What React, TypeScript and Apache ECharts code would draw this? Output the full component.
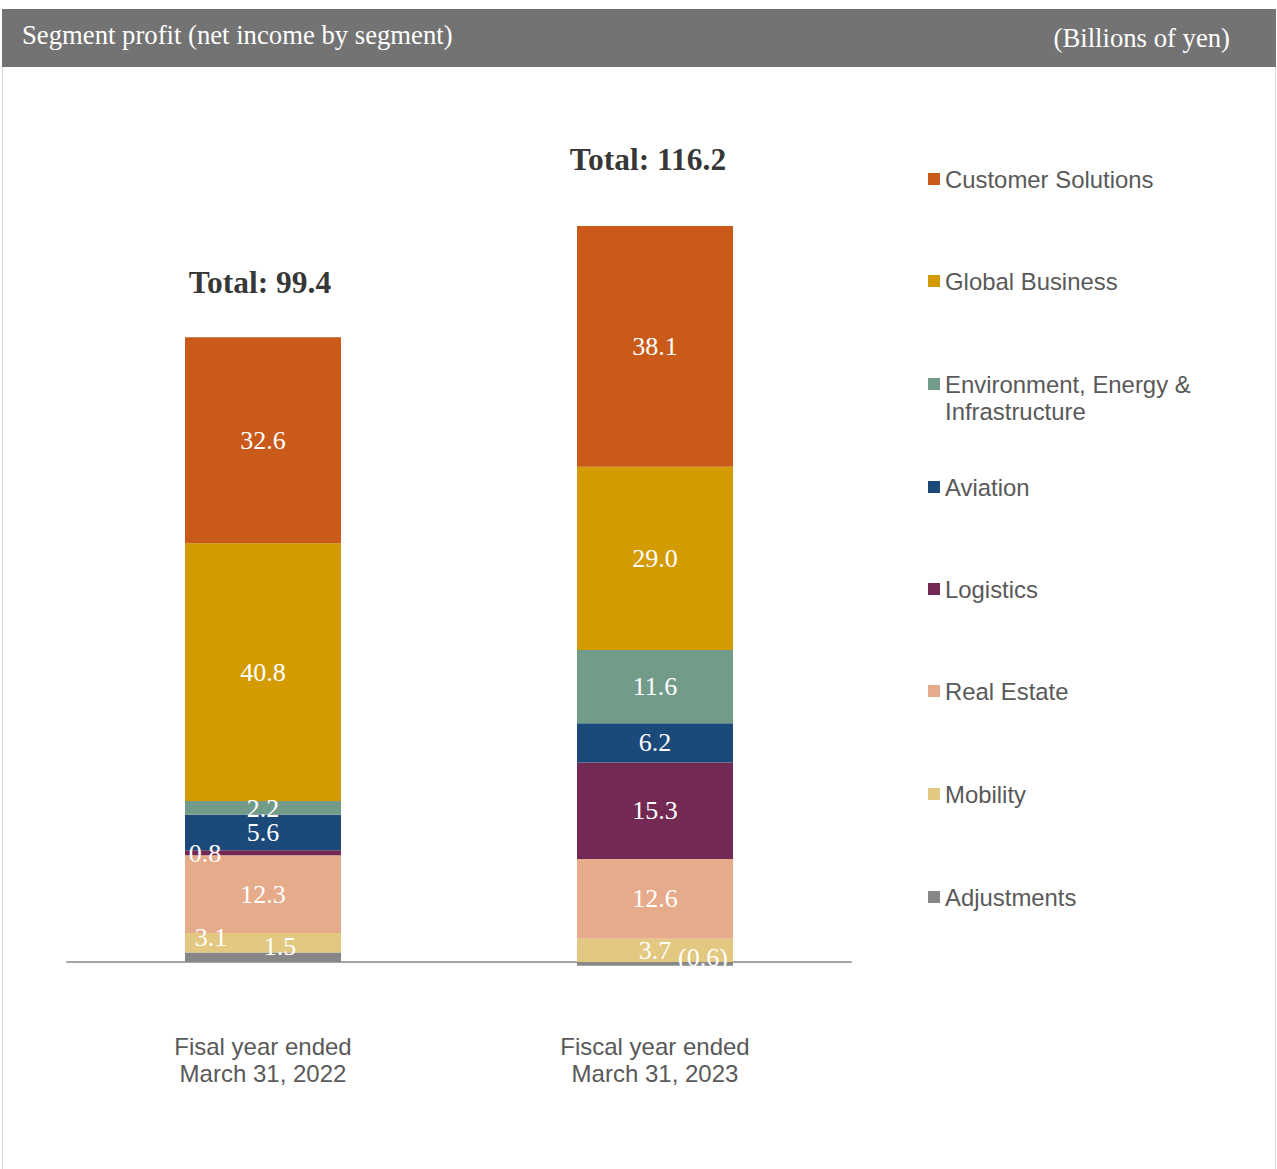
import React, { useEffect, useRef } from "react";
import * as echarts from "echarts";

const categories = ["Fisal year ended\nMarch 31, 2022", "Fiscal year ended\nMarch 31, 2023"];
const totals = [99.4, 116.2];

const adjustments = [1.5, -0.6];
const mobility = [3.1, 3.7];
const realEstate = [12.3, 12.6];
const logistics = [0.8, 15.3];
const aviation = [5.6, 6.2];
const environment = [2.2, 11.6];
const globalBusiness = [40.8, 29.0];
const customerSolutions = [32.6, 38.1];

const seriesNames = [
  "Adjustments",
  "Mobility",
  "Real Estate",
  "Logistics",
  "Aviation",
  "Environment, Energy &\nInfrastructure",
  "Global Business",
  "Customer Solutions",
];
const seriesValues = [adjustments, mobility, realEstate, logistics, aviation, environment, globalBusiness, customerSolutions];
const seriesColors = ["#878787", "#E2C880", "#E6AB8B", "#722A55", "#1B4A7A", "#739B89", "#D39B00", "#C95A19"];

// label offsets for small segments [seriesIndex][categoryIndex]
const labelOffsets: Record<string, number[]> = {
  "0-0": [17, -11],
  "0-1": [48, -6],
  "1-0": [-52, -5],
  "3-0": [-58, 1],
  "5-0": [0, 1],
};

// legend order top to bottom and centers
const legendOrder = [7, 6, 5, 4, 3, 2, 1, 0];
const legendCenters = [179, 281, 384, 487, 589, 691, 794, 897];

const fmt = (v: number) => (v < 0 ? `(${Math.abs(v).toFixed(1)})` : v.toFixed(1));

export default function App() {
  const ref = useRef<HTMLDivElement>(null);
  useEffect(() => {
    document.body.style.margin = "0";
    const chart = echarts.init(ref.current!, null, { renderer: "svg" });
    const barSeries = seriesNames.map((name, si) => ({
      name,
      type: "bar",
      stack: "total",
      barWidth: 156,
      itemStyle: { color: seriesColors[si] },
      label: {
        show: true,
        position: "inside",
        color: "#ffffff",
        fontFamily: "Liberation Serif",
        fontSize: 26,
        formatter: (p: any) => fmt(p.value),
      },
      data: seriesValues[si].map((v, ci) => {
        const off = labelOffsets[`${si}-${ci}`];
        return off ? { value: v, label: { offset: off } } : { value: v };
      }),
    }));
    const totalOffsets = [[-3, -35], [-7, -52]];
    const legends = legendOrder.map((si, i) => {
      const isEnv = si === 5;
      return {
        data: [seriesNames[si]],
        orient: "vertical",
        left: 928,
        top: isEnv ? legendCenters[i] - 40.5 : legendCenters[i] - 13,
        icon: "rect",
        itemWidth: 12,
        itemHeight: 12,
        padding: 0,
        selectedMode: false,
        formatter: isEnv ? (name: string) => "\n" + name : undefined,
        textStyle: { fontFamily: "Liberation Sans", fontSize: 23.9, color: "#595959", lineHeight: isEnv ? 27 : 26 },
      };
    });
    chart.setOption({
      animation: false,
      graphic: [
        { type: "rect", shape: { x: 2.5, y: 9.5, width: 1273, height: 1170 }, style: { fill: "#ffffff", stroke: "#d9d9d9", lineWidth: 1 }, z: -10 },
        { type: "rect", shape: { x: 2, y: 9, width: 1274, height: 58 }, style: { fill: "#737373" } },
        {
          type: "text",
          x: 22,
          y: 35,
          style: { text: "Segment profit (net income by segment)", fill: "#ffffff", font: "26.7px 'Liberation Serif'", verticalAlign: "middle", align: "left" },
        },
        {
          type: "text",
          x: 1230,
          y: 38,
          style: { text: "(Billions of yen)", fill: "#ffffff", font: "26.7px 'Liberation Serif'", verticalAlign: "middle", align: "right" },
        },
      ],
      legend: legends,
      grid: { left: 67, width: 784, top: 140.7, bottom: 143.8, containLabel: false },
      xAxis: {
        type: "category",
        data: categories,
        axisLine: { show: true, onZero: true, lineStyle: { color: "#a6a6a6", width: 2 } },
        axisTick: { show: false },
        axisLabel: { margin: 7.3, fontSize: 24, lineHeight: 27, color: "#595959", fontFamily: "Liberation Sans" },
      },
      yAxis: { type: "value", min: -10, max: 130, show: false, splitLine: { show: false } },
      series: [
        ...barSeries,
        {
          name: "Total",
          type: "scatter",
          symbolSize: 1,
          itemStyle: { color: "transparent" },
          label: {
            show: true,
            position: "top",
            distance: 0,
            color: "#000000",
            fontFamily: "Liberation Serif",
            fontWeight: "bold",
            fontSize: 31.5,
            formatter: (p: any) => `Total: ${p.value.toFixed(1)}`,
          },
          data: totals.map((v, i) => ({ value: v, label: { offset: totalOffsets[i] } })),
          z: 10,
        },
      ],
    });
    return () => chart.dispose();
  }, []);
  return <div ref={ref} style={{ width: 1277, height: 1169 }} />;
}
